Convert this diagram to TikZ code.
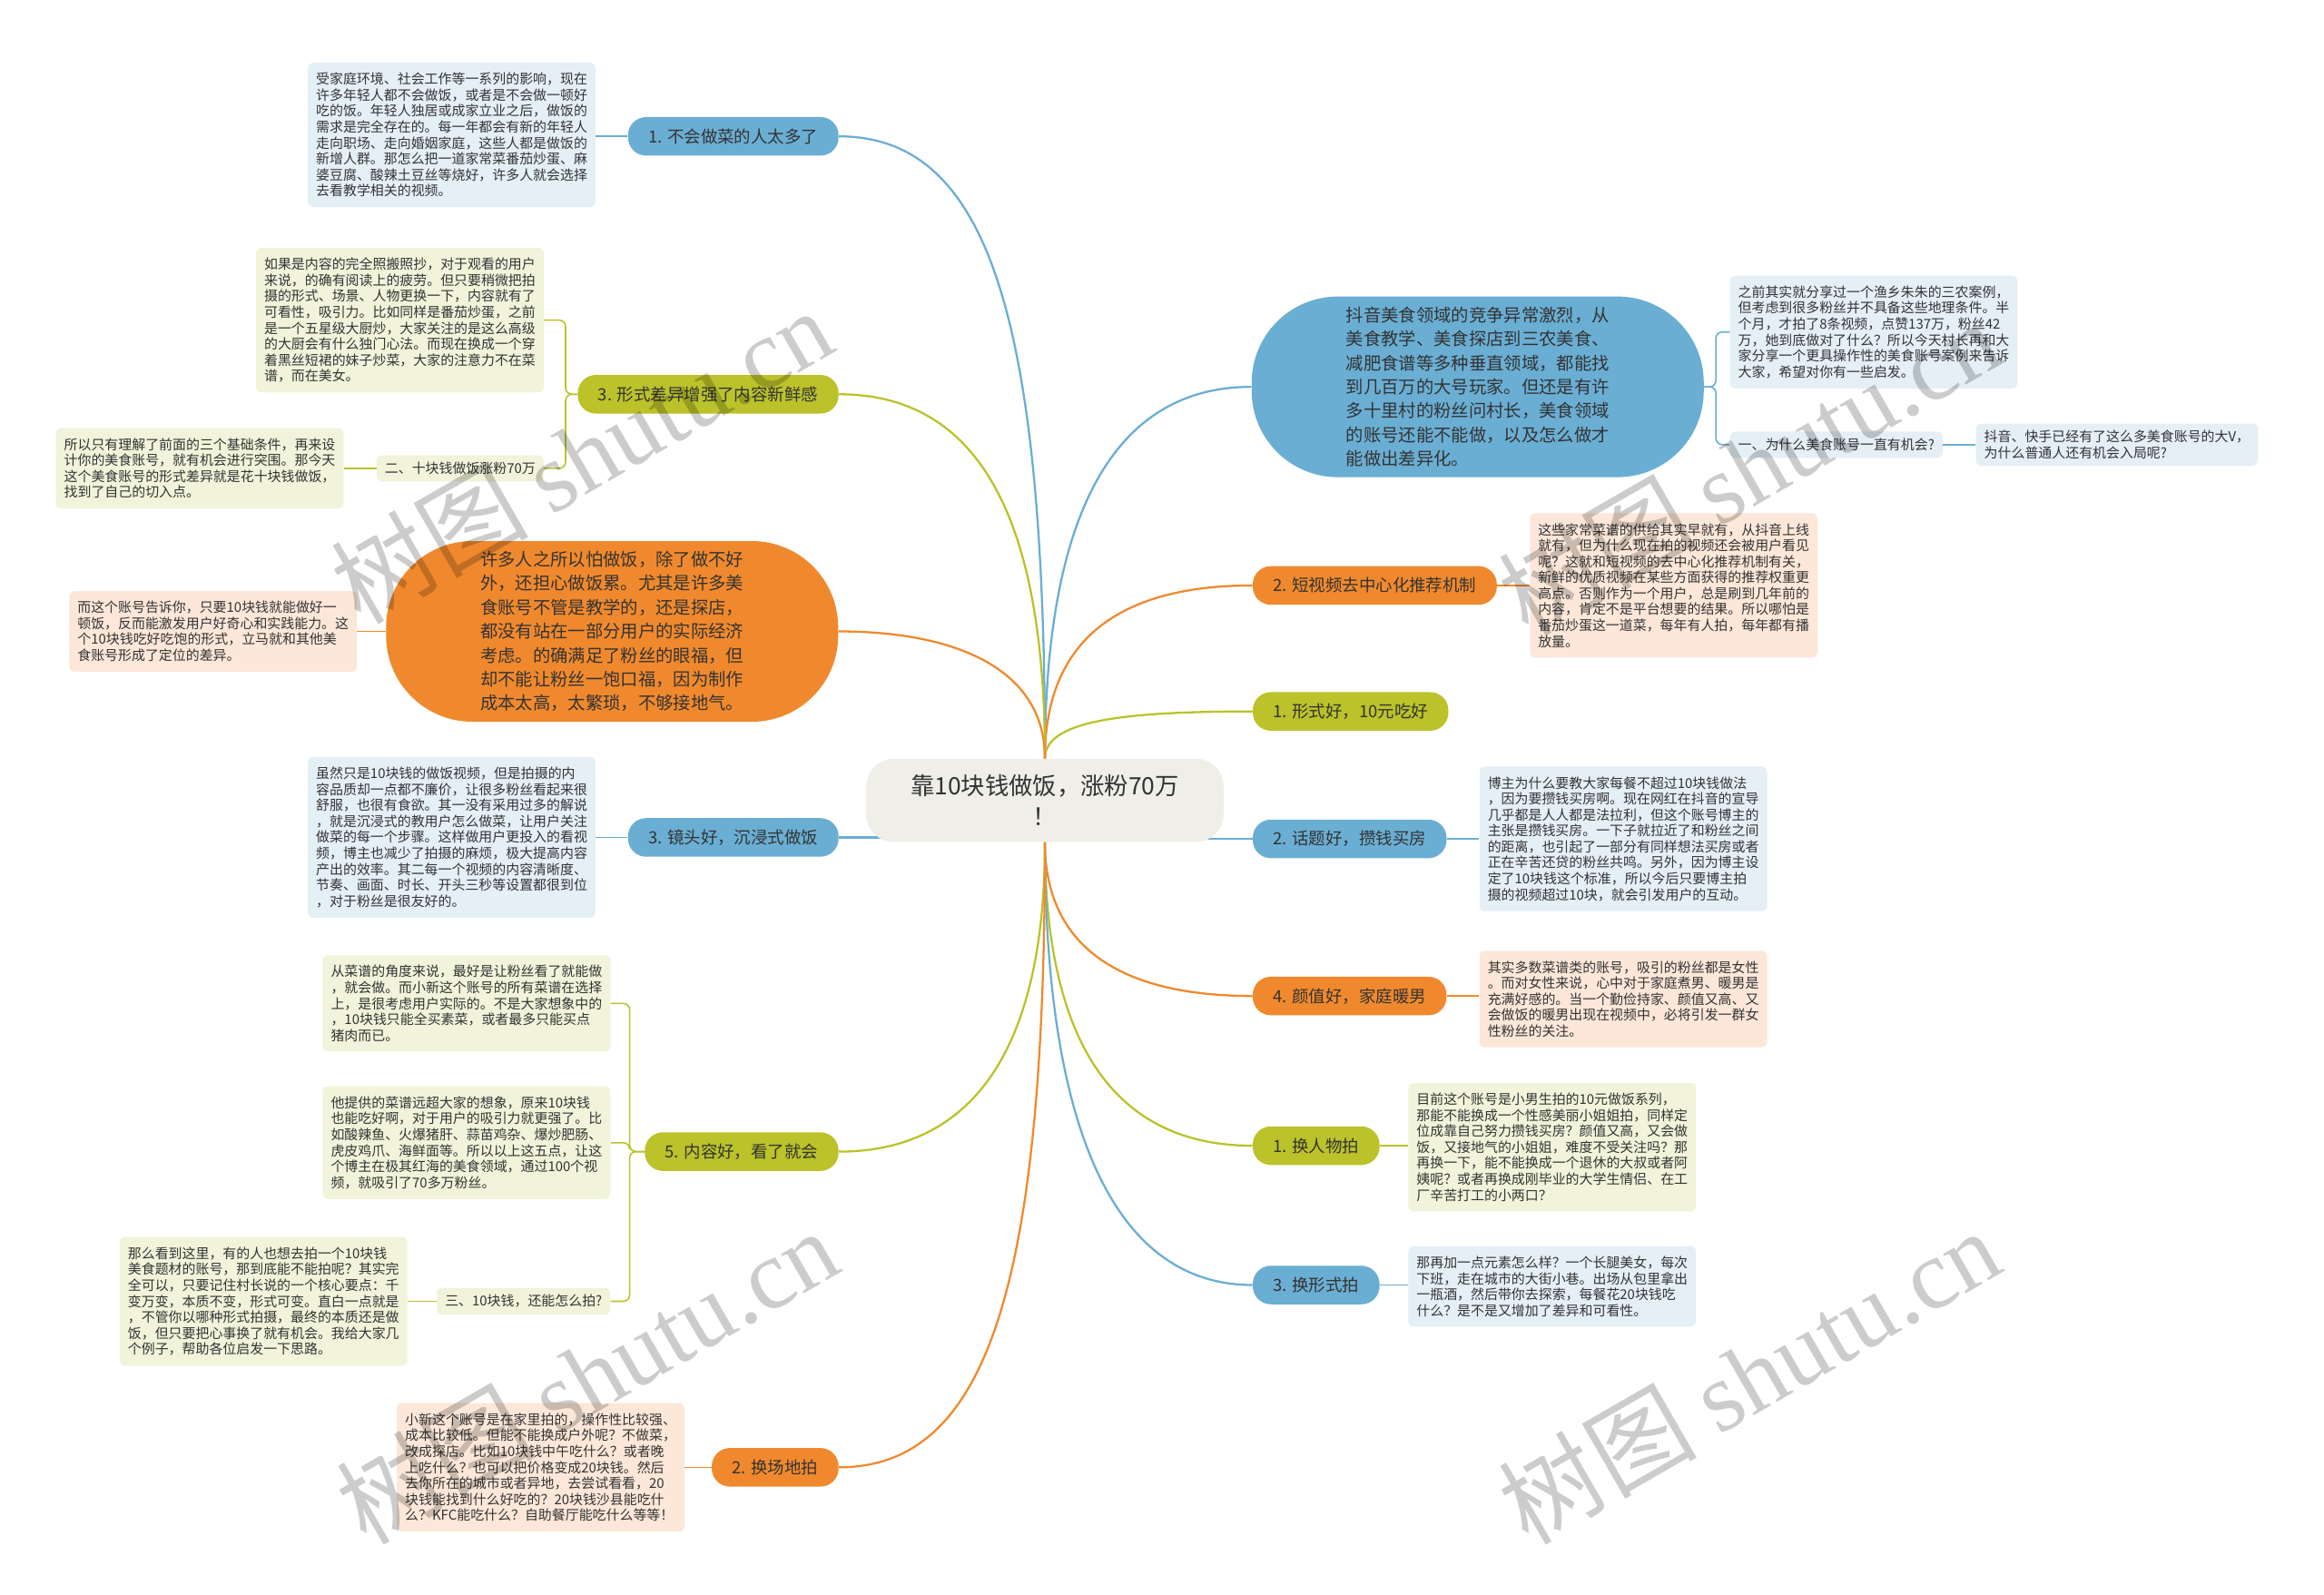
\documentclass[tikz,border=0pt]{standalone}
\usepackage{fontspec}
\setmainfont{Noto Sans CJK SC}
\newfontfamily\wmfont{Liberation Serif}
\usepackage{tikz}
\definecolor{mapblue}{RGB}{106,174,211}
\definecolor{maporange}{RGB}{240,137,45}
\definecolor{mapgreen}{RGB}{187,194,42}
\definecolor{paleblue}{RGB}{228,239,246}
\definecolor{paleorange}{RGB}{252,231,216}
\definecolor{palegreen}{RGB}{241,243,218}
\definecolor{centerbg}{RGB}{239,238,231}
\definecolor{inkgray}{RGB}{51,51,51}
\pgfdeclarelayer{bg}
\pgfsetlayers{bg,main}

\begin{document}
\begin{tikzpicture}[x=0.32653mm, y=-0.32653mm,
  hubbox/.style={fill=centerbg, rounded corners=6mm, minimum width=78.7mm,
    minimum height=18.3mm, align=center, text=inkgray, font=\fontsize{15}{19}\selectfont},
  bigbox/.style={rounded corners=19mm, minimum width=99.6mm, minimum height=39.8mm,
    inner sep=0pt, align=left, text=inkgray, font=\fontsize{11}{15}\selectfont},
  tagbox/.style={rounded corners=4mm, minimum height=8.5mm, inner xsep=4.5mm,
    inner ysep=0pt, text=inkgray, font=\fontsize{10.5}{12}\selectfont},
  notebox/.style={rounded corners=1.2mm, inner xsep=1.8mm, inner ysep=2.2mm,
    align=left, text=inkgray, font=\fontsize{8.5}{10}\selectfont},
  subbox/.style={rounded corners=1.2mm, inner xsep=1.8mm, inner ysep=1.5mm,
    text=inkgray, font=\fontsize{8.5}{10}\selectfont},
  link/.style={line width=1.3pt},
  twig/.style={line width=0.9pt, rounded corners=4pt},
  wm/.style={rotate=30, text=black, opacity=0.2, font=\fontsize{62}{68}\selectfont}]
  \useasboundingbox (0,0) rectangle (1568,1076);

  %% centre
  \node[hubbox] (hub) at (705,540) {靠10块钱做饭，涨粉70万\\！};

  %% right side
  \node[bigbox,fill=mapblue] (rbig) at (997,261)
    {抖音美食领域的竞争异常激烈，从\\美食教学、美食探店到三农美食、\\减肥食谱等多种垂直领域，都能找\\到几百万的大号玩家。但还是有许\\多十里村的粉丝问村长，美食领域\\的账号还能不能做，以及怎么做才\\能做出差异化。};
  \node[notebox,fill=paleblue,anchor=west] (b1) at (1167,224)
    {之前其实就分享过一个渔乡朱朱的三农案例，\\但考虑到很多粉丝并不具备这些地理条件。半\\个月，才拍了8条视频，点赞137万，粉丝42\\万，她到底做对了什么？所以今天村长再和大\\家分享一个更具操作性的美食账号案例来告诉\\大家，希望对你有一些启发。};
  \node[subbox,fill=paleblue,anchor=west] (s1) at (1167,300) {一、为什么美食账号一直有机会?};
  \node[notebox,fill=paleblue,anchor=west,inner ysep=1.5mm] (b2) at (1333,300)
    {抖音、快手已经有了这么多美食账号的大V，\\为什么普通人还有机会入局呢?};

  \node[tagbox,fill=maporange,anchor=west] (r2) at (845,395) {2. 短视频去中心化推荐机制};
  \node[notebox,fill=paleorange,anchor=west] (o1) at (1032,395)
    {这些家常菜谱的供给其实早就有，从抖音上线\\就有，但为什么现在拍的视频还会被用户看见\\呢？这就和短视频的去中心化推荐机制有关，\\新鲜的优质视频在某些方面获得的推荐权重更\\高点。否则作为一个用户，总是刷到几年前的\\内容，肯定不是平台想要的结果。所以哪怕是\\番茄炒蛋这一道菜，每年有人拍，每年都有播\\放量。};

  \node[tagbox,fill=mapgreen,anchor=west] (r3) at (845,480) {1. 形式好，10元吃好};

  \node[tagbox,fill=mapblue,anchor=west] (r4) at (845,566) {2. 话题好，攒钱买房};
  \node[notebox,fill=paleblue,anchor=west] (b3) at (998,566)
    {博主为什么要教大家每餐不超过10块钱做法\\，因为要攒钱买房啊。现在网红在抖音的宣导\\几乎都是人人都是法拉利，但这个账号博主的\\主张是攒钱买房。一下子就拉近了和粉丝之间\\的距离，也引起了一部分有同样想法买房或者\\正在辛苦还贷的粉丝共鸣。另外，因为博主设\\定了10块钱这个标准，所以今后只要博主拍\\摄的视频超过10块，就会引发用户的互动。};

  \node[tagbox,fill=maporange,anchor=west] (r5) at (845,672) {4. 颜值好，家庭暖男};
  \node[notebox,fill=paleorange,anchor=west] (o2) at (998,674)
    {其实多数菜谱类的账号，吸引的粉丝都是女性\\。而对女性来说，心中对于家庭煮男、暖男是\\充满好感的。当一个勤俭持家、颜值又高、又\\会做饭的暖男出现在视频中，必将引发一群女\\性粉丝的关注。};

  \node[tagbox,fill=mapgreen,anchor=west] (r6) at (845,773) {1. 换人物拍};
  \node[notebox,fill=palegreen,anchor=west] (g1) at (950,774)
    {目前这个账号是小男生拍的10元做饭系列，\\那能不能换成一个性感美丽小姐姐拍，同样定\\位成靠自己努力攒钱买房？颜值又高，又会做\\饭，又接地气的小姐姐，难度不受关注吗？那\\再换一下，能不能换成一个退休的大叔或者阿\\姨呢？或者再换成刚毕业的大学生情侣、在工\\厂辛苦打工的小两口？};

  \node[tagbox,fill=mapblue,anchor=west] (r7) at (845,867) {3. 换形式拍};
  \node[notebox,fill=paleblue,anchor=west] (b4) at (950,868)
    {那再加一点元素怎么样？一个长腿美女，每次\\下班，走在城市的大街小巷。出场从包里拿出\\一瓶酒，然后带你去探索，每餐花20块钱吃\\什么？是不是又增加了差异和可看性。};

  %% left side
  \node[tagbox,fill=mapblue,anchor=east] (l1) at (566,92) {1. 不会做菜的人太多了};
  \node[notebox,fill=paleblue,anchor=east] (b5) at (402,91)
    {受家庭环境、社会工作等一系列的影响，现在\\许多年轻人都不会做饭，或者是不会做一顿好\\吃的饭。年轻人独居或成家立业之后，做饭的\\需求是完全存在的。每一年都会有新的年轻人\\走向职场、走向婚姻家庭，这些人都是做饭的\\新增人群。那怎么把一道家常菜番茄炒蛋、麻\\婆豆腐、酸辣土豆丝等烧好，许多人就会选择\\去看教学相关的视频。};

  \node[tagbox,fill=mapgreen,anchor=east] (l2) at (566,266) {3. 形式差异增强了内容新鲜感};
  \node[notebox,fill=palegreen,anchor=east] (g2) at (367,216)
    {如果是内容的完全照搬照抄，对于观看的用户\\来说，的确有阅读上的疲劳。但只要稍微把拍\\摄的形式、场景、人物更换一下，内容就有了\\可看性，吸引力。比如同样是番茄炒蛋，之前\\是一个五星级大厨炒，大家关注的是这么高级\\的大厨会有什么独门心法。而现在换成一个穿\\着黑丝短裙的妹子炒菜，大家的注意力不在菜\\谱，而在美女。};
  \node[subbox,fill=palegreen,anchor=east] (s2) at (367,316) {二、十块钱做饭涨粉70万};
  \node[notebox,fill=palegreen,anchor=east] (g3) at (232,316)
    {所以只有理解了前面的三个基础条件，再来设\\计你的美食账号，就有机会进行突围。那今天\\这个美食账号的形式差异就是花十块钱做饭，\\找到了自己的切入点。};

  \node[bigbox,fill=maporange] (lbig) at (413,426)
    {许多人之所以怕做饭，除了做不好\\外，还担心做饭累。尤其是许多美\\食账号不管是教学的，还是探店，\\都没有站在一部分用户的实际经济\\考虑。的确满足了粉丝的眼福，但\\却不能让粉丝一饱口福，因为制作\\成本太高，太繁琐，不够接地气。};
  \node[notebox,fill=paleorange,anchor=east] (o3) at (241,426)
    {而这个账号告诉你，只要10块钱就能做好一\\顿饭，反而能激发用户好奇心和实践能力。这\\个10块钱吃好吃饱的形式，立马就和其他美\\食账号形成了定位的差异。};

  \node[tagbox,fill=mapblue,anchor=east] (l3) at (566,565) {3. 镜头好，沉浸式做饭};
  \node[notebox,fill=paleblue,anchor=east] (b6) at (402,565)
    {虽然只是10块钱的做饭视频，但是拍摄的内\\容品质却一点都不廉价，让很多粉丝看起来很\\舒服，也很有食欲。其一没有采用过多的解说\\，就是沉浸式的教用户怎么做菜，让用户关注\\做菜的每一个步骤。这样做用户更投入的看视\\频，博主也减少了拍摄的麻烦，极大提高内容\\产出的效率。其二每一个视频的内容清晰度、\\节奏、画面、时长、开头三秒等设置都很到位\\，对于粉丝是很友好的。};

  \node[tagbox,fill=mapgreen,anchor=east] (l4) at (566,777) {5. 内容好，看了就会};
  \node[notebox,fill=palegreen,anchor=east] (g4) at (412,677)
    {从菜谱的角度来说，最好是让粉丝看了就能做\\，就会做。而小新这个账号的所有菜谱在选择\\上，是很考虑用户实际的。不是大家想象中的\\，10块钱只能全买素菜，或者最多只能买点\\猪肉而已。};
  \node[notebox,fill=palegreen,anchor=east] (g5) at (412,771)
    {他提供的菜谱远超大家的想象，原来10块钱\\也能吃好啊，对于用户的吸引力就更强了。比\\如酸辣鱼、火爆猪肝、蒜苗鸡杂、爆炒肥肠、\\虎皮鸡爪、海鲜面等。所以以上这五点，让这\\个博主在极其红海的美食领域，通过100个视\\频，就吸引了70多万粉丝。};
  \node[subbox,fill=palegreen,anchor=east] (s3) at (412,878) {三、10块钱，还能怎么拍?};
  \node[notebox,fill=palegreen,anchor=east] (g6) at (275,878)
    {那么看到这里，有的人也想去拍一个10块钱\\美食题材的账号，那到底能不能拍呢？其实完\\全可以，只要记住村长说的一个核心要点：千\\变万变，本质不变，形式可变。直白一点就是\\，不管你以哪种形式拍摄，最终的本质还是做\\饭，但只要把心事换了就有机会。我给大家几\\个例子，帮助各位启发一下思路。};

  \node[tagbox,fill=maporange,anchor=east] (l5) at (566,990) {2. 换场地拍};
  \node[notebox,fill=paleorange,anchor=east] (o4) at (462,990)
    {小新这个账号是在家里拍的，操作性比较强、\\成本比较低。但能不能换成户外呢？不做菜，\\改成探店。比如10块钱中午吃什么？或者晚\\上吃什么？也可以把价格变成20块钱。然后\\去你所在的城市或者异地，去尝试看看，20\\块钱能找到什么好吃的？20块钱沙县能吃什\\么？KFC能吃什么？自助餐厅能吃什么等等！};

  %% watermarks
  \foreach \p in {(392,307),(1180,315),(396,928),(1180,928)}
    \node[wm] at \p {树图 {\wmfont shutu.cn}};

  \begin{pgfonlayer}{bg}
    \fill[white] (0,0) rectangle (1568,1076);
    %% main branches
    \draw[link,mapblue] (hub.north) .. controls +(0,-170) and +(-90,0) .. (rbig.west);
    \draw[link,maporange] (hub.north) .. controls +(0,-80) and +(-90,0) .. (r2.west);
    \draw[link,mapgreen] (hub.north) .. controls +(0,-25) and +(-90,0) .. (r3.west);
    \draw[link,mapblue] ([xshift=-5mm]hub.east |- r4.west) -- (r4.west);
    \draw[link,maporange] (hub.south) .. controls +(0,70) and +(-90,0) .. (r5.west);
    \draw[link,mapgreen] (hub.south) .. controls +(0,140) and +(-90,0) .. (r6.west);
    \draw[link,mapblue] (hub.south) .. controls +(0,200) and +(-90,0) .. (r7.west);
    \draw[link,mapblue] (hub.north) .. controls +(0,-300) and +(100,0) .. (l1.east);
    \draw[link,mapgreen] (hub.north) .. controls +(0,-170) and +(90,0) .. (l2.east);
    \draw[link,maporange] (hub.north) .. controls +(0,-60) and +(80,0) .. (lbig.east);
    \draw[link,mapblue] ([xshift=5mm]hub.west |- l3.east) -- (l3.east);
    \draw[link,mapgreen] (hub.south) .. controls +(0,140) and +(90,0) .. (l4.east);
    \draw[link,maporange] (hub.south) .. controls +(0,300) and +(100,0) .. (l5.east);
    %% twigs
    \draw[twig,mapblue] (rbig.east) -- ++(8,0) |- (b1.west);
    \draw[twig,mapblue] (rbig.east) -- ++(8,0) |- (s1.west);
    \draw[twig,mapblue] (s1.east) -- (b2.west |- s1.east);
    \draw[twig,maporange] (r2.east) -- (o1.west |- r2.east);
    \draw[twig,mapblue] (r4.east) -- (b3.west |- r4.east);
    \draw[twig,maporange] (r5.east) -- (o2.west |- r5.east);
    \draw[twig,mapgreen] (r6.east) -- (g1.west |- r6.east);
    \draw[twig,mapblue] (r7.east) -- (b4.west |- r7.east);
    \draw[twig,mapblue] (l1.west) -- (b5.east |- l1.west);
    \draw[twig,mapgreen] (l2.west) -- ++(-8,0) |- (g2.east);
    \draw[twig,mapgreen] (l2.west) -- ++(-8,0) |- (s2.east);
    \draw[twig,mapgreen] (s2.west) -- (g3.east |- s2.west);
    \draw[twig,maporange] (lbig.west) -- (o3.east |- lbig.west);
    \draw[twig,mapblue] (l3.west) -- (b6.east |- l3.west);
    \draw[twig,mapgreen] (l4.west) -- ++(-10,0) |- (g4.east);
    \draw[twig,mapgreen] (l4.west) -- ++(-10,0) |- (g5.east);
    \draw[twig,mapgreen] (l4.west) -- ++(-10,0) |- (s3.east);
    \draw[twig,mapgreen] (s3.west) -- (g6.east |- s3.west);
    \draw[twig,maporange] (l5.west) -- (o4.east |- l5.west);
  \end{pgfonlayer}
\end{tikzpicture}
\end{document}
